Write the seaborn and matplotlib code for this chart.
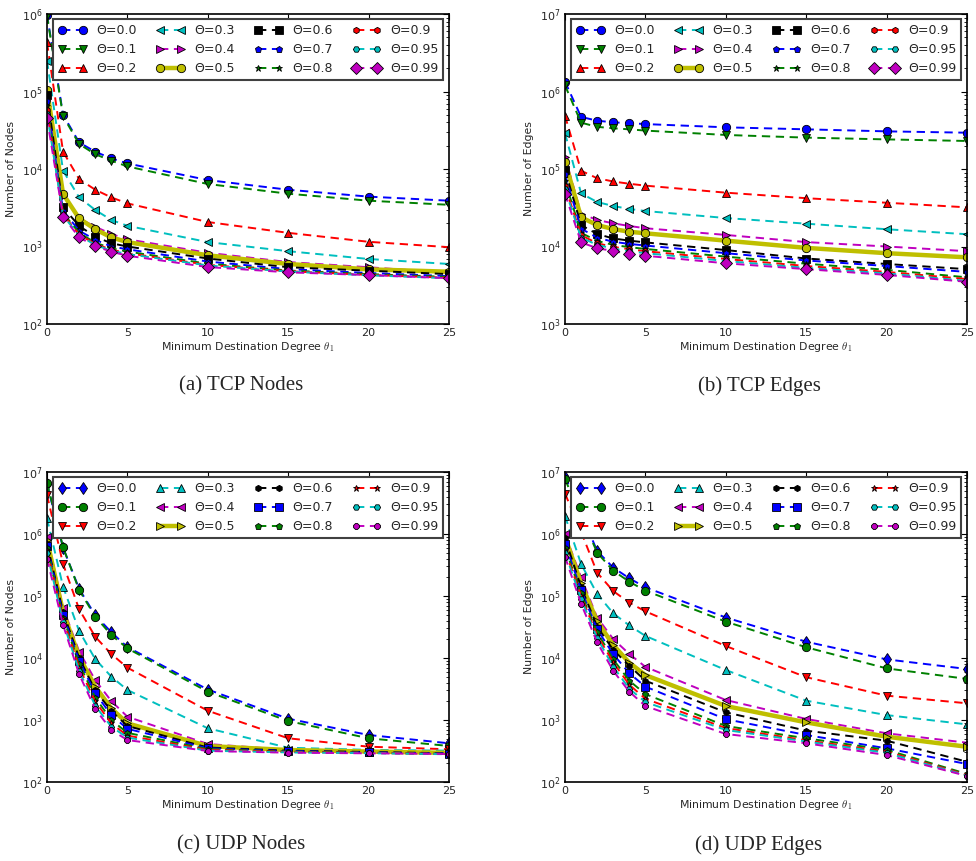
import numpy as np
import pandas as pd
import matplotlib
matplotlib.use("Agg")
import matplotlib.pyplot as plt
import seaborn as sns

# ---- data -------------------------------------------------------------
min_degree = [0, 1, 2, 3, 4, 5, 10, 15, 20, 25]
thetas = ["0.0", "0.1", "0.2", "0.3", "0.4", "0.5", "0.6", "0.7", "0.8", "0.9", "0.95", "0.99"]

tcp_nodes = [
    [9.8e5, 5.0e4, 2.2e4, 1.67e4, 1.37e4, 1.18e4, 7.2e3, 5.4e3, 4.4e3, 3.9e3],
    [9.5e5, 4.8e4, 2.1e4, 1.55e4, 1.28e4, 1.08e4, 6.4e3, 4.8e3, 3.9e3, 3.45e3],
    [4.3e5, 1.67e4, 7.4e3, 5.4e3, 4.3e3, 3.6e3, 2.07e3, 1.5e3, 1.15e3, 980],
    [2.5e5, 9.5e3, 4.3e3, 2.96e3, 2.2e3, 1.85e3, 1.14e3, 870, 690, 595],
    [6.5e4, 4.5e3, 2.3e3, 1.8e3, 1.45e3, 1.24e3, 830, 630, 540, 457],
    [1.05e5, 4.75e3, 2.3e3, 1.67e3, 1.31e3, 1.14e3, 770, 595, 507, 473],
    [9.0e4, 3.2e3, 1.84e3, 1.34e3, 1.1e3, 1.0e3, 700, 540, 487, 440],
    [7.5e4, 2.9e3, 1.6e3, 1.22e3, 1.0e3, 920, 640, 510, 455, 415],
    [6.5e4, 2.7e3, 1.5e3, 1.12e3, 950, 860, 600, 490, 440, 405],
    [5.8e4, 2.6e3, 1.42e3, 1.08e3, 910, 820, 580, 480, 430, 395],
    [5.2e4, 2.5e3, 1.38e3, 1.05e3, 880, 800, 570, 475, 425, 390],
    [4.5e4, 2.43e3, 1.31e3, 1.01e3, 857, 760, 543, 464, 428, 390],
]

tcp_edges = [
    [1.34e6, 4.7e5, 4.2e5, 4.0e5, 3.9e5, 3.8e5, 3.45e5, 3.25e5, 3.06e5, 2.94e5],
    [1.2e6, 3.96e5, 3.5e5, 3.35e5, 3.25e5, 3.13e5, 2.75e5, 2.54e5, 2.41e5, 2.3e5],
    [4.87e5, 9.5e4, 7.6e4, 6.9e4, 6.45e4, 6.1e4, 4.95e4, 4.2e4, 3.67e4, 3.2e4],
    [2.9e5, 4.85e4, 3.75e4, 3.33e4, 3.05e4, 2.87e4, 2.33e4, 1.97e4, 1.67e4, 1.44e4],
    [1.44e5, 2.65e4, 2.2e4, 1.99e4, 1.84e4, 1.72e4, 1.41e4, 1.14e4, 1.0e4, 8.7e3],
    [1.24e5, 2.38e4, 1.89e4, 1.68e4, 1.55e4, 1.48e4, 1.19e4, 9.6e3, 8.2e3, 7.25e3],
    [9.7e4, 1.89e4, 1.45e4, 1.27e4, 1.19e4, 1.13e4, 9.0e3, 7.0e3, 5.95e3, 5.1e3],
    [8.5e4, 1.7e4, 1.3e4, 1.15e4, 1.08e4, 1.03e4, 8.2e3, 6.6e3, 5.6e3, 4.7e3],
    [7.0e4, 1.5e4, 1.18e4, 1.05e4, 9.8e3, 9.3e3, 7.4e3, 6.0e3, 5.0e3, 4.0e3],
    [6.0e4, 1.4e4, 1.1e4, 9.9e3, 9.2e3, 8.7e3, 6.9e3, 5.6e3, 4.7e3, 3.8e3],
    [5.5e4, 1.3e4, 1.05e4, 9.4e3, 8.7e3, 8.2e3, 6.5e3, 5.3e3, 4.5e3, 3.6e3],
    [4.8e4, 1.13e4, 9.5e3, 8.75e3, 8.0e3, 7.6e3, 6.07e3, 5.1e3, 4.3e3, 3.5e3],
]

udp_nodes = [
    [6.5e6, 6.0e5, 1.3e5, 4.9e4, 2.6e4, 1.5e4, 3.1e3, 1.05e3, 573, 421],
    [6.7e6, 6.1e5, 1.25e5, 4.65e4, 2.35e4, 1.43e4, 2.86e3, 963, 507, 381],
    [4.25e6, 3.28e5, 6.1e4, 2.2e4, 1.16e4, 6.98e3, 1.41e3, 507, 371, 337],
    [1.79e6, 1.41e5, 2.72e4, 9.6e3, 5.0e3, 3.05e3, 735, 357, 330, 320],
    [9.0e5, 6.5e4, 1.27e4, 4.4e3, 2.02e3, 1.13e3, 410, 330, 310, 295],
    [8.0e5, 5.5e4, 1.05e4, 3.44e3, 1.54e3, 883, 380, 328, 310, 295],
    [7.0e5, 5.5e4, 1.0e4, 3.0e3, 1.4e3, 800, 360, 320, 305, 290],
    [6.5e5, 5.0e4, 9.0e3, 2.7e3, 1.2e3, 720, 350, 315, 300, 288],
    [6.0e5, 4.5e4, 8.0e3, 2.3e3, 1.0e3, 620, 340, 310, 298, 285],
    [5.5e5, 4.2e4, 7.0e3, 2.0e3, 880, 560, 330, 305, 295, 283],
    [5.0e5, 3.8e4, 6.2e3, 1.7e3, 780, 520, 320, 300, 292, 280],
    [4.0e5, 3.4e4, 5.46e3, 1.5e3, 690, 475, 316, 297, 290, 283],
]

udp_edges = [
    [8.4e6, 2.2e6, 5.3e5, 2.87e5, 1.93e5, 1.38e5, 4.5e4, 1.83e4, 9.5e3, 6.65e3],
    [7.6e6, 2.0e6, 5.0e5, 2.56e5, 1.7e5, 1.22e5, 3.86e4, 1.49e4, 6.8e3, 4.6e3],
    [4.5e6, 1.09e6, 2.38e5, 1.2e5, 7.8e4, 5.66e4, 1.56e4, 4.9e3, 2.47e3, 1.86e3],
    [1.95e6, 3.28e5, 1.08e5, 5.25e4, 3.35e4, 2.27e4, 6.4e3, 2.05e3, 1.2e3, 850],
    [1.0e6, 2.0e5, 4.5e4, 2.02e4, 1.16e4, 7.2e3, 2.1e3, 1.04e3, 610, 430],
    [9.0e5, 1.6e5, 3.9e4, 1.62e4, 8.4e3, 5.3e3, 1.68e3, 916, 538, 370],
    [8.5e5, 1.4e5, 3.2e4, 1.35e4, 7.5e3, 4.3e3, 1.33e3, 673, 464, 212],
    [7.0e5, 1.25e5, 2.9e4, 1.15e4, 5.67e3, 3.45e3, 1.03e3, 573, 349, 195],
    [6.0e5, 1.1e5, 2.6e4, 9.5e3, 4.3e3, 2.62e3, 800, 507, 330, 135],
    [5.5e5, 1.0e5, 2.3e4, 8.5e3, 3.7e3, 2.2e3, 740, 470, 310, 130],
    [5.0e5, 9.0e4, 2.1e4, 7.2e3, 3.2e3, 1.95e3, 690, 450, 295, 127],
    [4.3e5, 7.5e4, 1.79e4, 6.2e3, 2.86e3, 1.68e3, 595, 421, 272, 125],
]

# ---- styling ----------------------------------------------------------
sns.set_style("white")
plt.rcParams["font.family"] = ["DejaVu Sans"]
plt.rcParams["mathtext.fontset"] = "cm"
plt.rcParams["lines.scale_dashes"] = False

colors = ["#0000ff", "#008000", "#ff0000", "#00bfbf", "#bf00bf", "#bfbf00",
          "#000000", "#0000ff", "#008000", "#ff0000", "#00bfbf", "#bf00bf"]

tcp_markers = ["o", "v", "^", "<", ">", "o", "s", "p", "*", "h", "H", "D"]
tcp_msizes = [6, 6, 6, 6, 6, 6, 6, 4.5, 5, 4.5, 4.5, 6]
udp_markers = ["d", "o", "v", "^", "<", ">", "h", "s", "p", "*", "H", "8"]
udp_msizes = [6, 6, 6, 6, 6, 6, 4.5, 6, 4.5, 5, 4.5, 4.5]

panels = [
    ("(a) TCP Nodes", tcp_nodes, tcp_markers, tcp_msizes, "Number of Nodes", (1e2, 1e6)),
    ("(b) TCP Edges", tcp_edges, tcp_markers, tcp_msizes, "Number of Edges", (1e3, 1e7)),
    ("(c) UDP Nodes", udp_nodes, udp_markers, udp_msizes, "Number of Nodes", (1e2, 1e7)),
    ("(d) UDP Edges", udp_edges, udp_markers, udp_msizes, "Number of Edges", (1e2, 1e7)),
]

W, H = 976, 861
fig = plt.figure(figsize=(W / 100, H / 100), dpi=100)

# axes boxes in pixels: left, top, right, bottom
boxes = [(47, 14, 449, 324), (565, 14, 967, 324),
         (47, 472, 449, 782), (565, 472, 967, 782)]
caption_pos = [(241, 386), (759, 386), (241, 845), (759, 845)]

for (caption, table, markers, msizes, ylabel, ylim), box, cpos in zip(panels, boxes, caption_pos):
    l, t, r, b = box
    ax = fig.add_axes([l / W, 1 - b / H, (r - l) / W, (b - t) / H])
    for i, theta in enumerate(thetas):
        df = pd.DataFrame({"degree": min_degree, "count": table[i]})
        solid = theta == "0.5"
        sns.lineplot(data=df, x="degree", y="count", ax=ax,
                     color=colors[i],
                     linestyle="-" if solid else (0, (6, 4)),
                     linewidth=3.2 if solid else 1.4,
                     marker=markers[i], markersize=msizes[i],
                     markeredgecolor="black", markeredgewidth=0.6,
                     label="\u0398=" + theta,
                     errorbar=None, legend=False)
    ax.set_yscale("log")
    ax.set_xlim(0, 25)
    ax.set_ylim(*ylim)
    ax.set_xticks([0, 5, 10, 15, 20, 25])
    ax.tick_params(axis="both", which="both", direction="in", top=True, right=True,
                   labelsize=8, pad=3, color="black")
    ax.tick_params(which="major", length=4.5, width=0.8)
    ax.tick_params(which="minor", length=2.5, width=0.6)
    for sp in ax.spines.values():
        sp.set_color("black")
        sp.set_linewidth(1.2)
    ax.set_xlabel(r"Minimum Destination Degree $\theta_1$", fontsize=7.8, labelpad=1.5)
    ax.set_ylabel(ylabel, fontsize=7.8, labelpad=4)
    ax.grid(False)

    handles, labels = ax.get_legend_handles_labels()
    leg = ax.legend(handles, labels, ncol=4, loc="upper left",
                    bbox_to_anchor=(0.016, 0.0, 0.97, 0.984), mode="expand",
                    borderaxespad=0, numpoints=2, fontsize=9, handlelength=2.3,
                    handletextpad=0.7, labelspacing=0.5, borderpad=0.4,
                    fancybox=False, framealpha=1, edgecolor="0.25")
    leg.get_frame().set_linewidth(1.5)
    leg.set_zorder(10)

    fig.text(cpos[0] / W, 1 - cpos[1] / H, caption, ha="center", va="center",
             fontsize=15, family=["Liberation Serif", "DejaVu Serif"])

fig.savefig("out.png", dpi=100)
